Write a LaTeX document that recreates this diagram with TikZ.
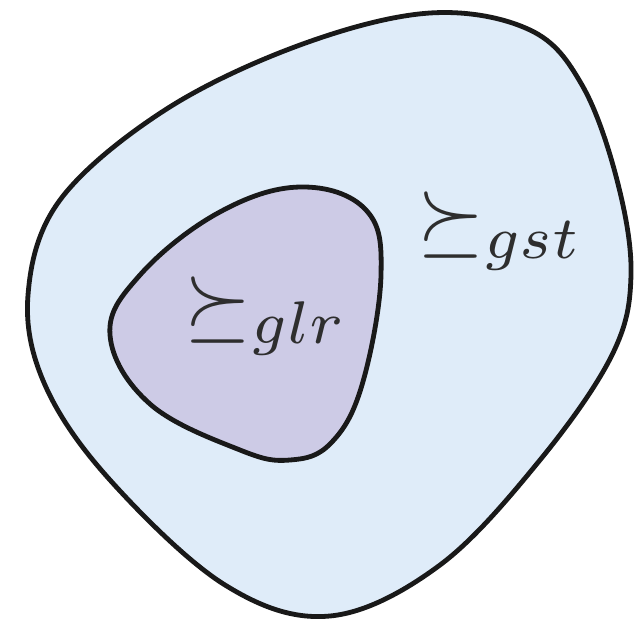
\documentclass[tikz,border=0pt]{standalone}
\begin{document}
\begin{tikzpicture}[x=1pt,y=-1pt,
  blob/.style={draw=black!90,line width=4.8pt},
  lbl/.style={text=black!82,scale=8.6,inner sep=0pt}]
\useasboundingbox (0,0) rectangle (639,621);
\definecolor{outerfill}{HTML}{DFECF9}
\definecolor{innerfill}{HTML}{CDCBE6}
\draw[blob,fill=outerfill] plot[smooth cycle,tension=0.6] coordinates {
  (430,13) (530,30) (582,85) (617,180) (631,275) (612,355)
  (540,460) (440,565) (330,616) (225,585) (110,480) (45,385)
  (28,295) (60,200) (165,110) (300,45)};
\draw[blob,fill=innerfill] plot[smooth cycle,tension=0.65] coordinates {
  (300,187) (366,210) (381,275) (362,385) (331,443) (290,460)
  (240,450) (150,404) (110,335) (140,275) (218,213)};
\node[lbl] (gst) at (500,231) {$\succeq_{gst}$};
\node[lbl] (glr) at (266,316) {$\succeq_{glr}$};
\end{tikzpicture}
\end{document}
